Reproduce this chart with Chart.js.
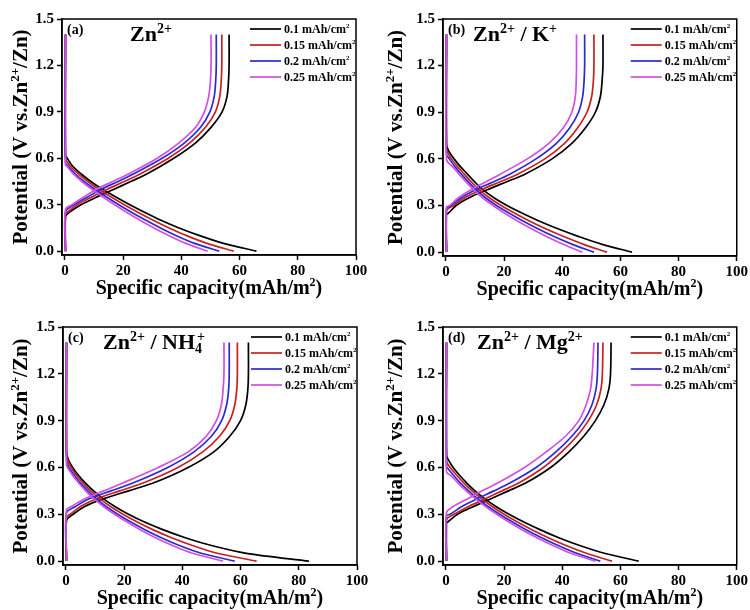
<!DOCTYPE html>
<html>
<head>
<meta charset="utf-8">
<script src="https://cdn.jsdelivr.net/npm/chart.js@4.4.1/dist/chart.umd.min.js"></script>
<style>
  body { margin: 0; background: #fff; }
  #wrap { position: relative; width: 750px; height: 610px; }
  canvas { position: absolute; }
</style>
</head>
<body>
<div id="wrap">
  <canvas id="pa" width="375" height="305" style="left:0;top:0"></canvas>
  <canvas id="pb" width="375" height="305" style="left:375px;top:0"></canvas>
  <canvas id="pc" width="375" height="305" style="left:0;top:305px"></canvas>
  <canvas id="pd" width="375" height="305" style="left:375px;top:305px"></canvas>
</div>
<script>
// ---- data ----
const xTicks = [0, 20, 40, 60, 80, 100];
const yTicks = [0, 0.3, 0.6, 0.9, 1.2, 1.5];
const densities = ['0.1 mAh/cm^{2}', '0.15 mAh/cm^{2}', '0.2 mAh/cm^{2}', '0.25 mAh/cm^{2}'];
const panelTags = ['(a)', '(b)', '(c)', '(d)'];
const panelTitles = ['Zn^{2+}', 'Zn^{2+} / K^{+}', 'Zn^{2+} / NH_{4}^{+}', 'Zn^{2+} / Mg^{2+}'];

// potential grids (V) shared by every curve, capacity (mAh/m2) per density row
const chargeV = [0.25, 0.3, 0.35, 0.4, 0.45, 0.5, 0.6, 0.7, 0.8, 0.9, 1.0, 1.1, 1.2, 1.4];
const dischargeV = [0.65, 0.6, 0.55, 0.5, 0.45, 0.4, 0.35, 0.3, 0.25, 0.2, 0.15, 0.1, 0.05, 0];
const cutoffV = 1.4;
const edgeCap = 0.2;

// (a) Zn2+
const aChargeKink = [0.22, 0.24, 0.255, 0.27];
const aCharge = [
  [1.5, 5.5, 11, 16.9, 22.6, 28.3, 37.4, 44.9, 50.2, 54, 55.7, 56.2, 56.4, 56.4],
  [0.8, 4.2, 9.2, 14.6, 20.4, 26, 35.5, 42.9, 48.3, 51.7, 53.2, 53.7, 53.9, 53.9],
  [null, 3.2, 7.8, 12.5, 18.2, 23.7, 33.4, 41.1, 46.6, 49.8, 51.3, 51.8, 52, 52],
  [null, 2.4, 6.5, 10.8, 16.4, 22, 31.7, 39.2, 44.9, 47.9, 49.4, 50, 50.2, 50.2]
];
const aDischargeKink = [0.62, 0.6, 0.57, 0.555];
const aDischarge = [
  [null, 0.8, 2.6, 5.5, 8.9, 12.9, 17.5, 22.3, 27.5, 33, 39.2, 46.3, 54.5, 65.8],
  [null, null, 1.8, 4.6, 7.9, 11.6, 15.9, 20.4, 25.2, 30.3, 35.8, 41.8, 48.8, 58],
  [null, null, 1, 3.5, 6.6, 10.3, 14.3, 18.5, 23, 27.8, 32.8, 38.3, 44.6, 53],
  [null, null, 0.6, 2.8, 5.8, 9.3, 13.1, 17.1, 21.3, 25.8, 30.6, 35.8, 41.6, 49]
];

// (b) Zn2+ / K+
const bChargeKink = [0.245, 0.265, 0.28, 0.29];
const bCharge = [
  [0.8, 3.5, 8, 14, 20.5, 27, 36.5, 43.3, 48, 51.4, 53.1, 53.7, 54, 54],
  [null, 2.6, 6.5, 12, 18.3, 24.5, 34, 40.8, 45.3, 48.5, 50.1, 50.7, 50.9, 50.9],
  [null, 1.8, 5.3, 10, 16, 21.8, 31, 38, 42.6, 45.6, 47, 47.5, 47.7, 47.7],
  [null, 1.3, 4.3, 8.5, 13.5, 18.5, 28, 35.4, 40.4, 43.3, 44.5, 44.8, 44.9, 44.9]
];
const bDischargeKink = [0.69, 0.66, 0.63, 0.595];
const bDischarge = [
  [1.0, 2.8, 5, 7.5, 10, 12.8, 16.5, 21, 26.3, 32, 38.5, 45.7, 53.7, 64],
  [0.4, 1.9, 4, 6.4, 8.8, 11.5, 14.9, 19, 23.7, 28.7, 34.3, 40.5, 47.3, 55.4],
  [null, 1.2, 3.1, 5.4, 7.8, 10.4, 13.6, 17.4, 21.8, 26.5, 31.6, 37.2, 43.5, 50.9],
  [null, null, 2.3, 4.6, 7, 9.6, 12.6, 16.2, 20.2, 24.6, 29.4, 34.6, 40.3, 46.9]
];

// (c) Zn2+ / NH4+
const cChargeKink = [0.26, 0.28, 0.31, 0.33];
const cCharge = [
  [null, 2.5, 6.5, 13, 21.5, 30, 42, 50.8, 56.3, 60, 61.8, 62.5, 62.7, 62.7],
  [null, 1.5, 5, 10.5, 18.5, 26.5, 38.5, 47, 52.8, 56.3, 58, 58.7, 58.9, 58.9],
  [null, null, 3.3, 8, 15.5, 23, 35, 44, 50, 53.5, 55.2, 55.9, 56.1, 56.1],
  [null, null, 1.9, 6.5, 13, 19.5, 31.7, 42, 48.2, 51.7, 53.4, 54, 54.3, 54.3]
];
const cDischargeKink = [0.7, 0.68, 0.645, 0.62];
const cDischarge = [
  [0.8, 2.3, 4.3, 6.7, 9.5, 12.8, 16.8, 21.5, 27, 33.5, 41, 50, 62, 83.5],
  [0.5, 1.8, 3.7, 5.9, 8.5, 11.6, 15.3, 19.6, 24.5, 30, 36.3, 43.5, 52, 65.5],
  [null, 1, 2.9, 5, 7.5, 10.4, 13.8, 17.8, 22.3, 27.3, 32.8, 39, 46.5, 58],
  [null, 0.5, 2.3, 4.4, 6.8, 9.6, 12.9, 16.7, 21, 25.7, 30.8, 36.6, 43.5, 54]
];

// (d) Zn2+ / Mg2+
const dChargeKink = [0.245, 0.265, 0.29, 0.31];
const dCharge = [
  [0.6, 4, 9.5, 15.5, 21.5, 27.4, 36, 42.3, 47.4, 51.4, 54.3, 56, 56.6, 56.8],
  [null, 2.8, 7.8, 13.5, 19.3, 25, 33.5, 39.8, 45, 49, 51.8, 53.3, 53.8, 54],
  [null, 1.5, 5.5, 10.8, 16.5, 22, 31, 37.8, 43.3, 47.5, 50.2, 51.6, 52.1, 52.3],
  [null, null, 2.5, 7.5, 12.5, 17.8, 27, 34.5, 41.1, 45.7, 48.2, 49.7, 50.3, 50.9]
];
const dDischargeKink = [0.68, 0.64, 0.605, 0.57];
const dDischarge = [
  [0.8, 2.5, 4.7, 7.2, 10, 13.3, 17.2, 21.7, 26.8, 32.5, 38.8, 46, 54.5, 66.3],
  [null, 1.5, 3.7, 6.2, 9, 12.2, 15.9, 20, 24.6, 29.7, 35.2, 41.3, 48.3, 57.1],
  [null, 0.4, 2.6, 5, 7.8, 10.9, 14.5, 18.5, 22.9, 27.7, 32.9, 38.6, 45, 53.1],
  [null, null, 1.6, 4.2, 7, 10.1, 13.6, 17.5, 21.7, 26.3, 31.3, 36.8, 43, 51.4]
];

// ---- styling ----
const colors = ['#000000', '#c8201e', '#2a2ad2', '#d24fe2'];
const FONT = '"Liberation Serif", "Times New Roman", serif';
// plot box of each panel, in canvas px
const frames = [
  { l: 62, t: 19, r: 356, b: 255, tx: 130 },
  { l: 68, t: 19, r: 362, b: 256, tx: 98 },
  { l: 63, t: 22, r: 357, b: 260, tx: 103 },
  { l: 68, t: 22, r: 362, b: 260, tx: 102 }
];

function richParts(s) {
  const out = [];
  const re = /\^\{([^}]*)\}|_\{([^}]*)\}|[^^_]+/g;
  let m;
  while ((m = re.exec(s))) {
    if (m[1] !== undefined) out.push({ t: m[1], k: 1 });
    else if (m[2] !== undefined) out.push({ t: m[2], k: -1 });
    else out.push({ t: m[0], k: 0 });
  }
  return out;
}

// draws text with ^{sup} and _{sub}; align 'left' or 'center'
function drawRich(ctx, s, x, y, size, align) {
  const parts = richParts(s);
  let w = 0, prevStart = 0, prevK = 0;
  const pos = [];
  parts.forEach(p => {
    const sz = p.k ? Math.round(size * 0.62) : size;
    ctx.font = 'bold ' + sz + 'px ' + FONT;
    const pw = ctx.measureText(p.t).width;
    let px = w;
    if (p.k === 1 && prevK === -1) px = prevStart + 2;
    pos.push({ p, sz, px });
    prevStart = px; prevK = p.k;
    w = Math.max(w, px + pw);
  });
  const x0 = align === 'center' ? x - w / 2 : x;
  ctx.textAlign = 'left';
  ctx.textBaseline = 'alphabetic';
  ctx.fillStyle = '#000';
  pos.forEach(o => {
    ctx.font = 'bold ' + o.sz + 'px ' + FONT;
    const dy = o.p.k === 1 ? -size * 0.38 : (o.p.k === -1 ? size * 0.2 : 0);
    ctx.fillText(o.p.t, x0 + o.px, y + dy);
  });
  return w;
}

const decor = {
  id: 'decor',
  afterDraw(chart, args, opts) {
    const ctx = chart.ctx;
    const a = chart.chartArea;
    ctx.save();
    ctx.strokeStyle = '#000';
    ctx.lineWidth = 1.5;
    ctx.strokeRect(a.left, a.top, a.right - a.left, a.bottom - a.top);

    drawRich(ctx, opts.tag, a.left + 5, a.top + 15, 14, 'left');
    drawRich(ctx, opts.title, opts.tx, a.top + 22, 22, 'left');

    // legend inside the plot, one entry per density
    densities.forEach((label, i) => {
      const y = a.top + 10 + i * 16;
      ctx.strokeStyle = colors[i];
      ctx.lineWidth = 1.7;
      ctx.beginPath();
      ctx.moveTo(a.right - 106, y);
      ctx.lineTo(a.right - 75, y);
      ctx.stroke();
      drawRich(ctx, label, a.right - 72, y + 4, 12, 'left');
    });

    drawRich(ctx, 'Specific capacity(mAh/m^{2})', (a.left + a.right) / 2, a.bottom + 39, 20, 'center');
    ctx.translate(27, (a.top + a.bottom) / 2);
    ctx.rotate(-Math.PI / 2);
    drawRich(ctx, 'Potential (V vs.Zn^{2+}/Zn)', 0, 0, 21, 'center');
    ctx.restore();
  }
};

function buildSets(chargeKink, charge, dischargeKink, discharge) {
  const sets = [];
  densities.forEach((label, i) => {
    const c = [{ x: edgeCap, y: 0 }, { x: edgeCap, y: chargeKink[i] }];
    chargeV.forEach((v, j) => { if (charge[i][j] !== null) c.push({ x: charge[i][j], y: v }); });
    const d = [{ x: edgeCap, y: cutoffV }, { x: edgeCap, y: dischargeKink[i] }];
    dischargeV.forEach((v, j) => { if (discharge[i][j] !== null) d.push({ x: discharge[i][j], y: v }); });
    [c, d].forEach(pts => sets.push({
      label: label,
      data: pts,
      showLine: true,
      borderColor: colors[i],
      borderWidth: 1.7,
      pointRadius: 0,
      tension: 0.3,
      order: densities.length - i
    }));
  });
  return sets;
}

function makePanel(id, idx, sets) {
  const f = frames[idx];
  const tickFont = { family: FONT, weight: 'bold', size: 15 };
  new Chart(document.getElementById(id), {
    type: 'scatter',
    data: { datasets: sets },
    options: {
      responsive: false,
      animation: false,
      layout: { padding: { left: 0, top: f.t, right: 375 - f.r, bottom: 0 } },
      plugins: {
        legend: { display: false },
        tooltip: { enabled: false },
        decor: { tag: panelTags[idx], title: panelTitles[idx], tx: f.tx }
      },
      scales: {
        x: {
          type: 'linear', min: -1, max: 100,
          afterBuildTicks: s => { s.ticks = xTicks.map(v => ({ value: v })); },
          afterFit: s => { s.height = 305 - f.b; },
          ticks: { color: '#000', font: tickFont, padding: 2, maxRotation: 0 },
          grid: { drawOnChartArea: false, tickLength: 5, tickColor: '#000', tickWidth: 1.5 },
          border: { color: '#000', width: 1.5 }
        },
        y: {
          type: 'linear', min: -0.025, max: 1.5,
          afterBuildTicks: s => { s.ticks = yTicks.map(v => ({ value: v })); },
          afterFit: s => { s.width = f.l; },
          ticks: { color: '#000', font: tickFont, padding: 3, callback: v => v.toFixed(1) },
          grid: { drawOnChartArea: false, tickLength: 5, tickColor: '#000', tickWidth: 1.5 },
          border: { color: '#000', width: 1.5 }
        }
      }
    },
    plugins: [decor]
  });
}

makePanel('pa', 0, buildSets(aChargeKink, aCharge, aDischargeKink, aDischarge));
makePanel('pb', 1, buildSets(bChargeKink, bCharge, bDischargeKink, bDischarge));
makePanel('pc', 2, buildSets(cChargeKink, cCharge, cDischargeKink, cDischarge));
makePanel('pd', 3, buildSets(dChargeKink, dCharge, dDischargeKink, dDischarge));
</script>
</body>
</html>
